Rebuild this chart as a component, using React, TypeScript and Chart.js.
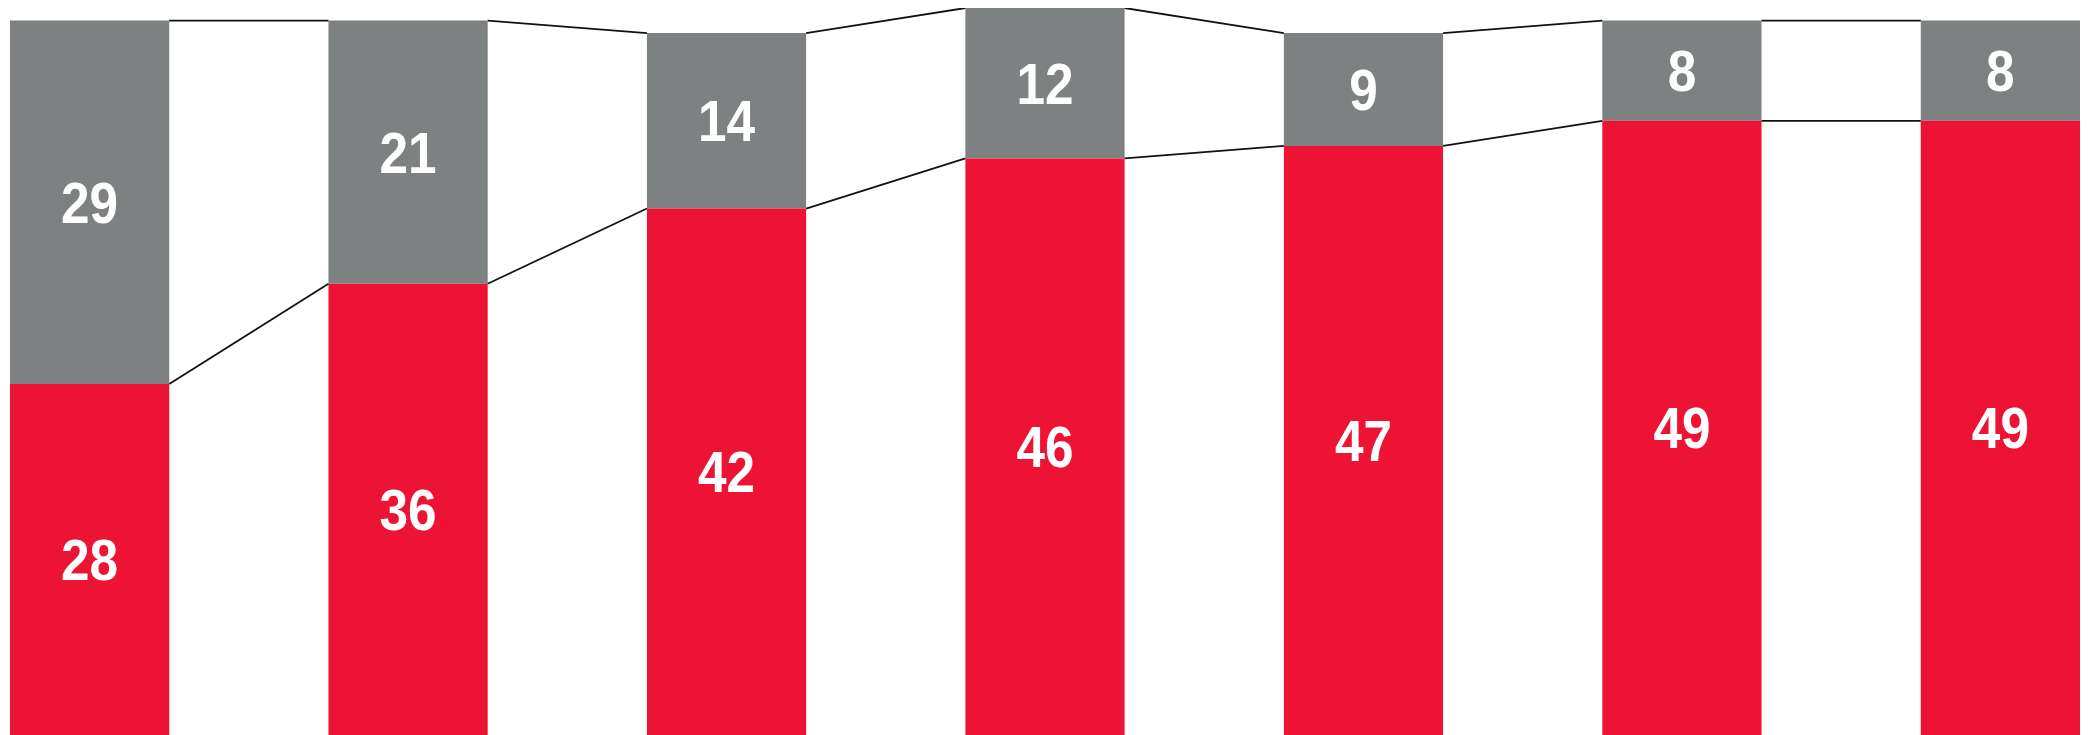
import React, { useEffect, useRef } from "react";
import { Chart, registerables } from "chart.js";

Chart.register(...registerables);

const categories = ["1", "2", "3", "4", "5", "6", "7"];
const redValues = [28, 36, 42, 46, 47, 49, 49];
const grayValues = [29, 21, 14, 12, 9, 8, 8];
const yMax = 58;

const RED = "#ED1334";
const GRAY = "#7E8181";

const connectorPlugin = {
  id: "connectors",
  afterDatasetsDraw(chart: any) {
    const ctx = chart.ctx;
    ctx.save();
    ctx.strokeStyle = "#111111";
    ctx.lineWidth = 1.8;
    for (let d = 0; d < chart.data.datasets.length; d++) {
      const meta = chart.getDatasetMeta(d);
      for (let i = 0; i < meta.data.length - 1; i++) {
        const a = meta.data[i].getProps(["x", "y", "width"], true);
        const b = meta.data[i + 1].getProps(["x", "y", "width"], true);
        ctx.beginPath();
        ctx.moveTo(a.x + a.width / 2, a.y);
        ctx.lineTo(b.x - b.width / 2, b.y);
        ctx.stroke();
      }
    }
    ctx.restore();
  },
};

const labelPlugin = {
  id: "segLabels",
  afterDatasetsDraw(chart: any) {
    const ctx = chart.ctx;
    const size = 57;
    const scaleX = 0.9;
    ctx.save();
    ctx.fillStyle = "#ffffff";
    ctx.font = `bold ${size}px 'Liberation Sans', Arial, sans-serif`;
    ctx.textAlign = "center";
    ctx.textBaseline = "alphabetic";
    for (let d = 0; d < chart.data.datasets.length; d++) {
      const meta = chart.getDatasetMeta(d);
      const ds = chart.data.datasets[d];
      meta.data.forEach((el: any, i: number) => {
        const p = el.getProps(["x", "y", "base"], true);
        const cy = (p.y + p.base) / 2;
        const val = ds.data[i].y;
        ctx.save();
        ctx.translate(p.x, cy + (size * 0.716) / 2);
        ctx.scale(scaleX, 1);
        ctx.fillText(String(val), 0, 0);
        ctx.restore();
      });
    }
    ctx.restore();
  },
};

export default function App() {
  const ref = useRef<HTMLCanvasElement | null>(null);
  useEffect(() => {
    if (!ref.current) return;
    const chart = new Chart(ref.current, {
      type: "bar",
      data: {
        datasets: [
          {
            label: "red",
            data: redValues.map((v, i) => ({ x: i, y: v })),
            backgroundColor: RED,
            borderWidth: 0,
            stack: "s",
            categoryPercentage: 1,
            barPercentage: 0.5,
          },
          {
            label: "gray",
            data: grayValues.map((v, i) => ({ x: i, y: v })),
            backgroundColor: GRAY,
            borderWidth: 0,
            stack: "s",
            categoryPercentage: 1,
            barPercentage: 0.5,
          },
        ],
      } as any,
      options: {
        animation: false,
        responsive: true,
        maintainAspectRatio: false,
        layout: { padding: { left: 2, right: 3, top: 0, bottom: 0 } },
        scales: {
          x: {
            type: "linear",
            offset: false,
            min: -0.25,
            max: categories.length - 0.75,
            stacked: true,
            display: false,
            afterBuildTicks: (scale: any) => {
              scale.ticks = categories.map((_, i) => ({ value: i }));
            },
          },
          y: {
            stacked: true,
            min: 0,
            max: yMax,
            display: false,
          },
        },
        plugins: {
          legend: { display: false },
          tooltip: { enabled: false },
        },
      } as any,
      plugins: [connectorPlugin, labelPlugin],
    });
    return () => chart.destroy();
  }, []);
  return (
    <div style={{ position: "absolute", left: 8, top: 8, width: 2075, height: 727 }}>
      <canvas ref={ref} />
    </div>
  );
}
